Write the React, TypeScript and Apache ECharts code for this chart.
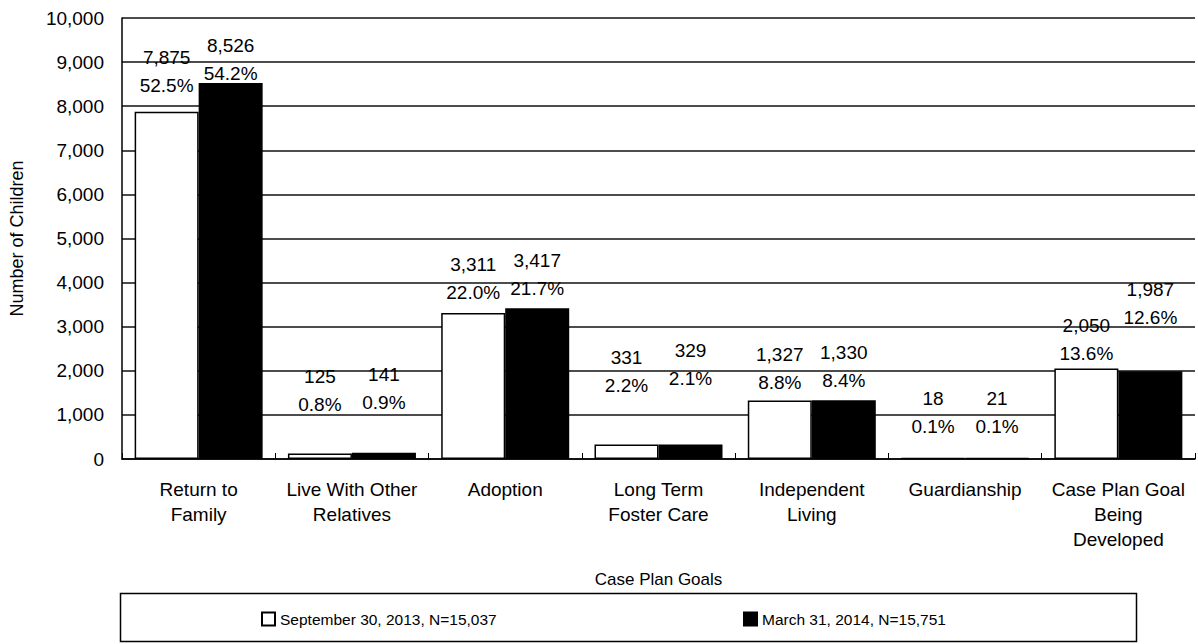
import React, { useEffect, useRef } from "react";
import * as echarts from "echarts";

const categories = [
  "Return to\nFamily",
  "Live With Other\nRelatives",
  "Adoption",
  "Long Term\nFoster Care",
  "Independent\nLiving",
  "Guardianship",
  "Case Plan Goal\nBeing\nDeveloped",
];

const seriesNames = ["September 30, 2013, N=15,037", "March 31, 2014, N=15,751"];
const sepValues = [7875, 125, 3311, 331, 1327, 18, 2050];
const marValues = [8526, 141, 3417, 329, 1330, 21, 1987];
const sepPct = ["52.5%", "0.8%", "22.0%", "2.2%", "8.8%", "0.1%", "13.6%"];
const marPct = ["54.2%", "0.9%", "21.7%", "2.1%", "8.4%", "0.1%", "12.6%"];

// label placement (style only): distance above the bar top
const sepLabelLift = [12, 35, 6, 45, 4, 17, 1];
const marLabelLift = [-4, 36, 6, 52, 6, 17, 40];

const FONT = "'Liberation Sans', Arial, sans-serif";

const fmt = (v: number) => v.toLocaleString("en-US");

export default function App() {
  const ref = useRef<HTMLDivElement>(null);

  useEffect(() => {
    if (!ref.current) return;
    const chart = echarts.init(ref.current, undefined, { renderer: "svg" });

    const makeData = (vals: number[], lifts: number[]) =>
      vals.map((v, i) => ({ value: v, label: { distance: lifts[i] } }));

    const labelBase = {
      show: true,
      position: "top",
      color: "#000",
      fontFamily: FONT,
      fontSize: 19,
      lineHeight: 28,
      align: "center",
    };

    const legendText = { fontFamily: FONT, fontSize: 15.5, color: "#000" };

    const option: any = {
      animation: false,
      backgroundColor: "#fff",
      textStyle: { fontFamily: FONT, color: "#000" },
      grid: { left: 122, right: 3, top: 18, bottom: 185, containLabel: false },
      legend: [
        {
          data: [seriesNames[0]],
          left: 256,
          top: 606,
          icon: "rect",
          itemWidth: 13,
          itemHeight: 13,
          itemGap: 0,
          textStyle: legendText,
          selectedMode: false,
        },
        {
          data: [seriesNames[1]],
          left: 738,
          top: 606,
          icon: "rect",
          itemWidth: 13,
          itemHeight: 13,
          itemGap: 0,
          textStyle: legendText,
          selectedMode: false,
        },
      ],
      graphic: [
        {
          type: "rect",
          left: 118,
          top: 591,
          shape: { x: 0, y: 0, width: 1016, height: 48 },
          style: { fill: "none", stroke: "#000", lineWidth: 1.5 },
          silent: true,
        },
      ],
      xAxis: {
        type: "category",
        data: categories,
        name: "Case Plan Goals",
        nameLocation: "middle",
        nameGap: 112,
        nameTextStyle: { fontFamily: FONT, fontSize: 17, color: "#000" },
        axisLine: { show: true, lineStyle: { color: "#000", width: 1.5 } },
        axisTick: { show: true, inside: true, length: 6, lineStyle: { color: "#000" } },
        axisLabel: {
          interval: 0,
          fontFamily: FONT,
          fontSize: 19,
          lineHeight: 25,
          margin: 18,
          color: "#000",
        },
        splitLine: { show: false },
      },
      yAxis: {
        type: "value",
        min: 0,
        max: 10000,
        interval: 1000,
        name: "Number of Children",
        nameLocation: "middle",
        nameGap: 96,
        nameTextStyle: { fontFamily: FONT, fontSize: 18, color: "#000" },
        axisLine: { show: true, lineStyle: { color: "#000", width: 1.5 } },
        axisTick: { show: false },
        axisLabel: {
          fontFamily: FONT,
          fontSize: 19,
          margin: 18,
          color: "#000",
          formatter: (v: number) => fmt(v),
        },
        splitLine: { show: true, lineStyle: { color: "#111", width: 1.5 } },
      },
      series: [
        {
          name: seriesNames[0],
          type: "bar",
          barWidth: 64,
          barGap: "0%",
          itemStyle: { color: "#fff", borderColor: "#000", borderWidth: 1.5 },
          label: {
            ...labelBase,
            formatter: (p: any) => `${fmt(p.value)}\n${sepPct[p.dataIndex]}`,
          },
          data: makeData(sepValues, sepLabelLift),
        },
        {
          name: seriesNames[1],
          type: "bar",
          barWidth: 64,
          barGap: "0%",
          itemStyle: { color: "#000", borderColor: "#000", borderWidth: 1.5 },
          label: {
            ...labelBase,
            formatter: (p: any) => `${fmt(p.value)}\n${marPct[p.dataIndex]}`,
          },
          data: makeData(marValues, marLabelLift),
        },
      ],
    };

    chart.setOption(option);
    return () => chart.dispose();
  }, []);

  return (
    <div
      ref={ref}
      style={{
        position: "fixed",
        left: 0,
        top: 0,
        width: 1198,
        height: 644,
        background: "#fff",
      }}
    />
  );
}
